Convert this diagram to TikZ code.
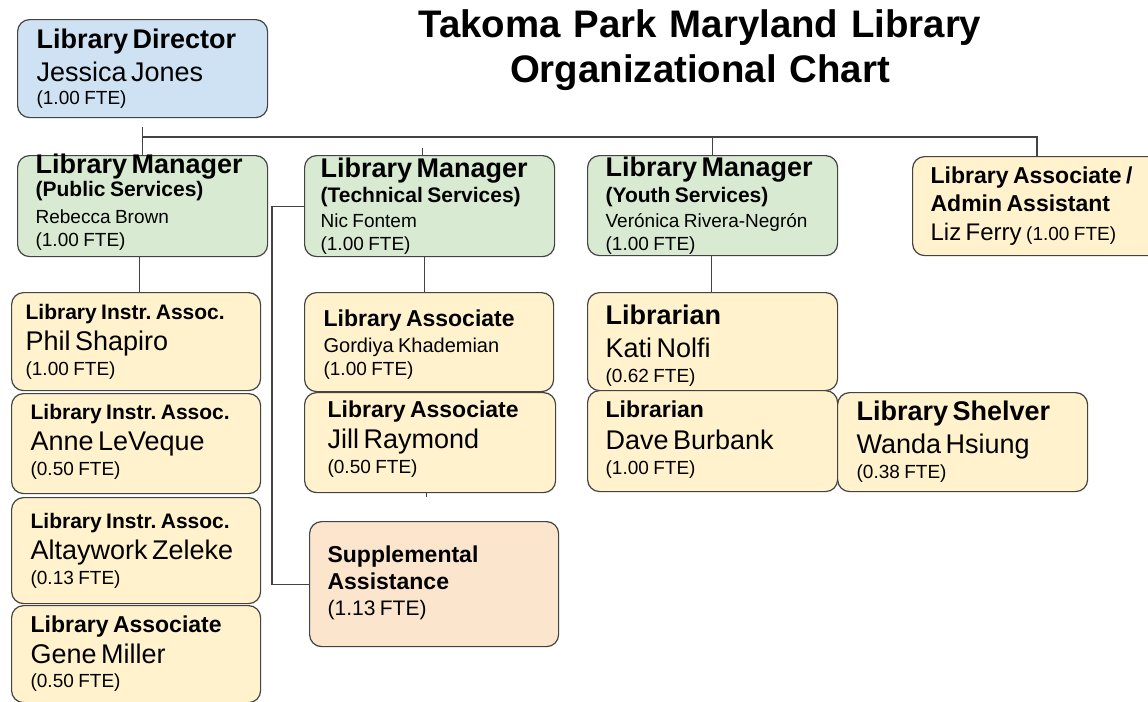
\documentclass[tikz,border=0pt]{standalone}
\usepackage{fontspec}
\setmainfont{Liberation Sans}
\frenchspacing

\definecolor{dirblue}{HTML}{CFE2F3}
\definecolor{mgrgreen}{HTML}{D9EAD3}
\definecolor{staffyellow}{HTML}{FFF2CC}
\definecolor{suppeach}{HTML}{FCE5CD}
\definecolor{edgegray}{HTML}{434343}

% line fonts (baselineskip 0, gaps come from \\[..])
\newcommand\bigrole{\fontsize{20.25}{0}\selectfont\bfseries}
\newcommand\midrole{\fontsize{17.25}{0}\selectfont\bfseries}
\newcommand\smallrole{\fontsize{15.75}{0}\selectfont\bfseries}
\newcommand\bigname{\fontsize{20.25}{0}\selectfont\mdseries}
\newcommand\smallname{\fontsize{14.25}{0}\selectfont\mdseries}
\newcommand\ftefont{\fontsize{14.25}{0}\selectfont\mdseries}

\tikzset{
  % baselineskip is 0, so let the interline glue go negative
  tightlines/.style={execute at begin node={\lineskiplimit=-\maxdimen\baselineskip=0pt},
    execute at end node={\par}},
  card/.style={draw=edgegray, line width=0.9pt, rounded corners=9pt, anchor=north west,
    inner sep=0pt, align=left, tightlines},
  % width, height, first baseline, left inset (all in px)
  cardbox/.style n args={4}{minimum width=#1*0.75pt, minimum height=#2*0.75pt,
    text width=(#1-2*#4)*0.75pt, text height=#3*0.75pt, text depth=(#2-#3)*0.75pt},
  link/.style={draw=edgegray, line width=0.9pt},
}

\begin{document}
\begin{tikzpicture}[x=0.75pt, y=-0.75pt]
  \useasboundingbox (0,0) rectangle (1148,701);

  % title
  \node[anchor=base, text width=450pt, align=center, inner sep=0pt, tightlines,
    font=\fontsize{28.8}{0}\selectfont\bfseries] (title) at (700,37)
    {Takoma Park Maryland Library\\[33.75pt]Organizational Chart};

  % director and managers
  \node[card, cardbox={250}{98}{29}{19}, fill=dirblue] (director) at (17,19)
    {\bigrole Library Director\\[24.75pt]\bigname Jessica Jones\\[17.25pt]\ftefont (1.00 FTE)};
  \node[card, cardbox={250}{101}{18}{18}, fill=mgrgreen] (public) at (17,155)
    {\bigrole Library Manager\\[17.25pt]\smallrole (Public Services)\\[20.25pt]\smallname Rebecca Brown\\[17.25pt]\ftefont (1.00 FTE)};
  \node[card, cardbox={250}{101}{22}{16}, fill=mgrgreen] (tech) at (304,155)
    {\bigrole Library Manager\\[18.75pt]\smallrole (Technical Services)\\[18.75pt]\smallname Nic Fontem\\[17.25pt]\ftefont (1.00 FTE)};
  \node[card, cardbox={250}{100}{21}{18}, fill=mgrgreen] (youth) at (587,155)
    {\bigrole Library Manager\\[19.5pt]\smallrole (Youth Services)\\[18.75pt]\smallname Verónica Rivera-Negrón\\[17.25pt]\ftefont (1.00 FTE)};
  \node[card, cardbox={260}{99}{27}{18}, fill=staffyellow] (admin) at (912,156)
    {\midrole Library Associate /\\[21pt]Admin Assistant\\[21.75pt]\fontsize{18}{0}\selectfont\mdseries Liz Ferry \ftefont(1.00 FTE)};

  % public services staff
  \node[card, cardbox={249}{98}{27}{14}, fill=staffyellow] (phil) at (11,292)
    {\smallrole Library Instr. Assoc.\\[23.25pt]\bigname Phil Shapiro\\[18.75pt]\ftefont (1.00 FTE)};
  \node[card, cardbox={249}{100}{26}{19}, fill=staffyellow] (anne) at (11,393)
    {\smallrole Library Instr. Assoc.\\[23.25pt]\bigname Anne LeVeque\\[18.75pt]\ftefont (0.50 FTE)};
  \node[card, cardbox={249}{106}{31}{19}, fill=staffyellow] (alta) at (11,497)
    {\smallrole Library Instr. Assoc.\\[23.25pt]\bigname Altaywork Zeleke\\[18.75pt]\ftefont (0.13 FTE)};
  \node[card, cardbox={249}{97}{27}{19}, fill=staffyellow] (gene) at (11,605)
    {\midrole Library Associate\\[23.25pt]\bigname Gene Miller\\[18pt]\ftefont (0.50 FTE)};

  % technical services staff
  \node[card, cardbox={249}{99}{34}{19}, fill=staffyellow] (gordiya) at (304,292)
    {\midrole Library Associate\\[19.5pt]\fontsize{15}{0}\selectfont\mdseries Gordiya Khademian\\[17.25pt]\ftefont (1.00 FTE)};
  \node[card, cardbox={251}{100}{25}{23}, fill=staffyellow] (jill) at (304,392)
    {\midrole Library Associate\\[23.25pt]\bigname Jill Raymond\\[18.75pt]\ftefont (0.50 FTE)};
  \node[card, cardbox={249}{125}{41}{18}, fill=suppeach] (supp) at (309,521)
    {\midrole Supplemental\\[20.25pt]Assistance\\[19.5pt]\fontsize{15.75}{0}\selectfont\mdseries (1.13 FTE)};

  % youth services staff
  \node[card, cardbox={250}{98}{32}{18}, fill=staffyellow] (kati) at (587,292)
    {\bigrole Librarian\\[24.75pt]\bigname Kati Nolfi\\[18.75pt]\ftefont (0.62 FTE)};
  \node[card, cardbox={250}{101}{27}{18}, fill=staffyellow] (dave) at (587,390)
    {\midrole Librarian\\[24pt]\bigname Dave Burbank\\[18.75pt]\ftefont (1.00 FTE)};
  \node[card, cardbox={250}{99}{28}{19}, fill=staffyellow] (wanda) at (837,392)
    {\bigrole Library Shelver\\[24.75pt]\bigname Wanda Hsiung\\[18.75pt]\ftefont (0.38 FTE)};

  % connectors
  \coordinate (dirtap) at ([yshift=-6.75pt]director.south);
  \coordinate (busend) at (1037,137);
  \coordinate (techtick) at ([xshift=-5.25pt]tech.north);
  \draw[link] (dirtap) -- (public.north);
  \draw[link] (dirtap |- busend) -- (busend) -- (busend |- admin.north);
  \draw[link] (youth.north |- busend) -- (youth.north);
  \draw[link] (techtick) -- ++(0,-7);
  \draw[link] ([xshift=-2.25pt]public.south) -- ([xshift=-2.25pt]public.south |- phil.north);
  \draw[link] ([xshift=-3.75pt]tech.south) -- ([xshift=-3.75pt]tech.south |- gordiya.north);
  \draw[link] ([xshift=-2.6pt]jill.south) -- ++(0,4);
  \draw[link] ([xshift=-1pt]youth.south) -- ([xshift=-1pt]youth.south |- kati.north);
  \draw[link] (tech.west) -- ++(-32,0) |- (supp.west);
\end{tikzpicture}
\end{document}
